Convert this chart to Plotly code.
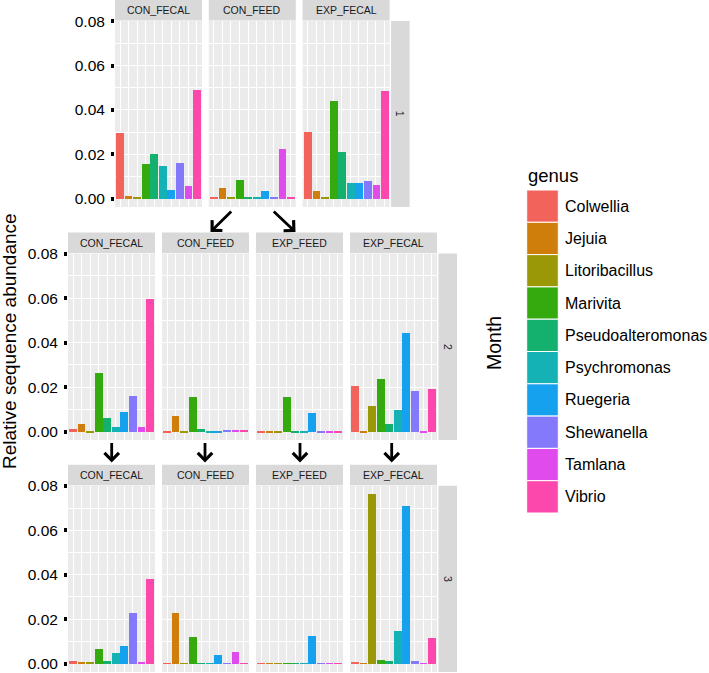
import plotly.graph_objects as go

# genus order on the x axis of every panel
genera = ["Colwellia", "Jejuia", "Litoribacillus", "Marivita", "Pseudoalteromonas",
          "Psychromonas", "Ruegeria", "Shewanella", "Tamlana", "Vibrio"]
genus_colors = ["#F2635C", "#CF7D0B", "#9A9807", "#35AA0E", "#13B06E",
                "#14B2B4", "#16A1EE", "#8579FB", "#DF4BED", "#FC48AD"]

# relative sequence abundance, month 1
m1_con_fecal = [0.0297, 0.0010, 0.0005, 0.0158, 0.0200, 0.0146, 0.0040, 0.0160, 0.0059, 0.0488]
m1_con_feed = [0.0007, 0.0047, 0.0004, 0.0086, 0.0004, 0.0004, 0.0032, 0.0004, 0.0222, 0.0007]
m1_exp_fecal = [0.0300, 0.0033, 0.0004, 0.0440, 0.0210, 0.0072, 0.0069, 0.0081, 0.0062, 0.0486]
# month 2
m2_con_fecal = [0.0015, 0.0035, 0.0003, 0.0265, 0.0065, 0.0021, 0.0090, 0.0162, 0.0021, 0.0600]
m2_con_feed = [0.0006, 0.0072, 0.0002, 0.0156, 0.0015, 0.0003, 0.0003, 0.0009, 0.0010, 0.0010]
m2_exp_feed = [0.0003, 0.0002, 0.0002, 0.0158, 0.0003, 0.0003, 0.0086, 0.0003, 0.0002, 0.0002]
m2_exp_fecal = [0.0207, 0.0005, 0.0116, 0.0239, 0.0035, 0.0099, 0.0444, 0.0186, 0.0005, 0.0193]
# month 3
m3_con_fecal = [0.0012, 0.0006, 0.0006, 0.0068, 0.0015, 0.0047, 0.0081, 0.0230, 0.0008, 0.0380]
m3_con_feed = [0.0003, 0.0229, 0.0003, 0.0123, 0.0003, 0.0003, 0.0042, 0.0003, 0.0053, 0.0003]
m3_exp_feed = [0.0002, 0.0002, 0.0002, 0.0002, 0.0002, 0.0002, 0.0126, 0.0002, 0.0002, 0.0002]
m3_exp_fecal = [0.0005, 0.0001, 0.0763, 0.0017, 0.0014, 0.0149, 0.0709, 0.0015, 0.0002, 0.0115]

y_ticks = [0.00, 0.02, 0.04, 0.06, 0.08]

W, H = 709, 673
FONT = "Liberation Sans, Arial, Helvetica, sans-serif"

def px(p):
    return p / W

def py(p):
    return 1 - p / H

# (month, facet label, values, left px, top px, bottom px)
panels = [
    ("1", "CON_FECAL", m1_con_fecal, 115.0, 21, 207),
    ("1", "CON_FEED", m1_con_feed, 208.8, 21, 207),
    ("1", "EXP_FECAL", m1_exp_fecal, 302.6, 21, 207),
    ("2", "CON_FECAL", m2_con_fecal, 68, 253.5, 440),
    ("2", "CON_FEED", m2_con_feed, 162, 253.5, 440),
    ("2", "EXP_FEED", m2_exp_feed, 256, 253.5, 440),
    ("2", "EXP_FECAL", m2_exp_fecal, 350, 253.5, 440),
    ("3", "CON_FECAL", m3_con_fecal, 68, 485.7, 672),
    ("3", "CON_FEED", m3_con_feed, 162, 485.7, 672),
    ("3", "EXP_FEED", m3_exp_feed, 256, 485.7, 672),
    ("3", "EXP_FECAL", m3_exp_fecal, 350, 485.7, 672),
]
PW = 87
first_in_row = {0, 3, 7}

fig = go.Figure()
layout = {}
shapes = []
annotations = []
strip_bg = "#D9D9D9"

def label(text, x, y, size, angle=0, xanchor="center", color="black"):
    return dict(text=text, xref="paper", yref="paper", x=px(x), y=py(y), showarrow=False,
                textangle=angle, xanchor=xanchor, yanchor="middle",
                font=dict(size=size, color=color, family=FONT))

for i, (month, name, vals, left, top, bottom) in enumerate(panels):
    n = i + 1
    xa = "x" if n == 1 else f"x{n}"
    ya = "y" if n == 1 else f"y{n}"
    fig.add_trace(go.Bar(x=list(range(1, 11)), y=vals, marker_color=genus_colors,
                         marker_line_width=0, width=0.9, xaxis=xa, yaxis=ya,
                         showlegend=False, hovertext=genera))
    layout["xaxis" if n == 1 else f"xaxis{n}"] = dict(
        domain=[px(left), px(left + PW)], anchor=ya, range=[0.4, 10.6],
        tickvals=list(range(1, 11)), showticklabels=False, ticks="",
        showgrid=True, gridcolor="white", gridwidth=1, zeroline=False, showline=False)
    first = i in first_in_row
    layout["yaxis" if n == 1 else f"yaxis{n}"] = dict(
        domain=[py(bottom), py(top)], anchor=xa, range=[-0.0038, 0.0801],
        tickvals=y_ticks, tickformat=".2f", showticklabels=first,
        ticks="outside" if first else "", ticklen=3, tickwidth=3.5, tickcolor="black",
        ticklabelstandoff=3,
        tickfont=dict(size=15.5, color="black", family=FONT),
        showgrid=True, gridcolor="white", gridwidth=1.2, zeroline=False, showline=False,
        minor=dict(dtick=0.01, tick0=0.01, showgrid=True, gridcolor="white", gridwidth=0.6),
        automargin=False)
    # facet strip on top
    shapes.append(dict(type="rect", xref="paper", yref="paper", x0=px(left), x1=px(left + PW),
                       y0=py(top - 0.5), y1=py(top - 21), fillcolor=strip_bg, line_width=0, layer="below"))
    annotations.append(label(name, left + PW / 2, top - 10.5, 10.5, color="#1A1A1A"))

# month strips on the right
for month, right, top, bottom in [("1", 302.6 + PW, 21, 207), ("2", 350 + PW, 253.5, 440),
                                  ("3", 350 + PW, 485.7, 672)]:
    shapes.append(dict(type="rect", xref="paper", yref="paper", x0=px(right + 1.5), x1=px(right + 20),
                       y0=py(bottom), y1=py(top), fillcolor=strip_bg, line_width=0, layer="below"))
    annotations.append(label(month, right + 10.75, (top + bottom) / 2, 10.5, angle=90, color="#1A1A1A"))

# arrows between months
arrows = [((232.7, 210), (210.5, 232)), ((272.3, 210), (295.5, 232)),
          ((111.7, 441.5), (111.7, 462.5)), ((205, 441.5), (205, 462.5)),
          ((300, 441.5), (300, 462.5)), ((391.7, 441.5), (391.7, 462.5))]
for (tx, ty), (hx, hy) in arrows:
    annotations.append(dict(text="", xref="paper", yref="paper", x=px(hx), y=py(hy),
                            axref="pixel", ayref="pixel", ax=tx - hx, ay=ty - hy,
                            showarrow=True, arrowhead=4, arrowsize=1, arrowwidth=2.8,
                            arrowcolor="black"))

# axis titles
annotations.append(label("Relative sequence abundance", 9, 341, 19, angle=-90))
annotations.append(label("Month", 494, 343, 19.5, angle=-90))

# legend drawn by hand
annotations.append(label("genus", 526, 176, 18.5, xanchor="left"))
key_top, key_h = 190, 32.3
for k, (g, c) in enumerate(zip(genera, genus_colors)):
    y0 = key_top + k * key_h
    shapes.append(dict(type="rect", xref="paper", yref="paper", x0=px(526.7), x1=px(558.3),
                       y0=py(y0 + key_h), y1=py(y0), fillcolor=c, line=dict(color="white", width=1)))
    annotations.append(label(g, 563, y0 + key_h / 2, 16, xanchor="left"))

fig.update_layout(**layout)
fig.update_layout(width=W, height=H, margin=dict(l=0, r=0, t=0, b=0),
                  plot_bgcolor="#EBEBEB", paper_bgcolor="white", bargap=0, hovermode=False,
                  shapes=shapes, annotations=annotations, font=dict(family=FONT))

fig.write_html("out.html", config={"displayModeBar": False},
               post_script="document.body.style.margin='0';document.body.style.overflow='hidden';")
